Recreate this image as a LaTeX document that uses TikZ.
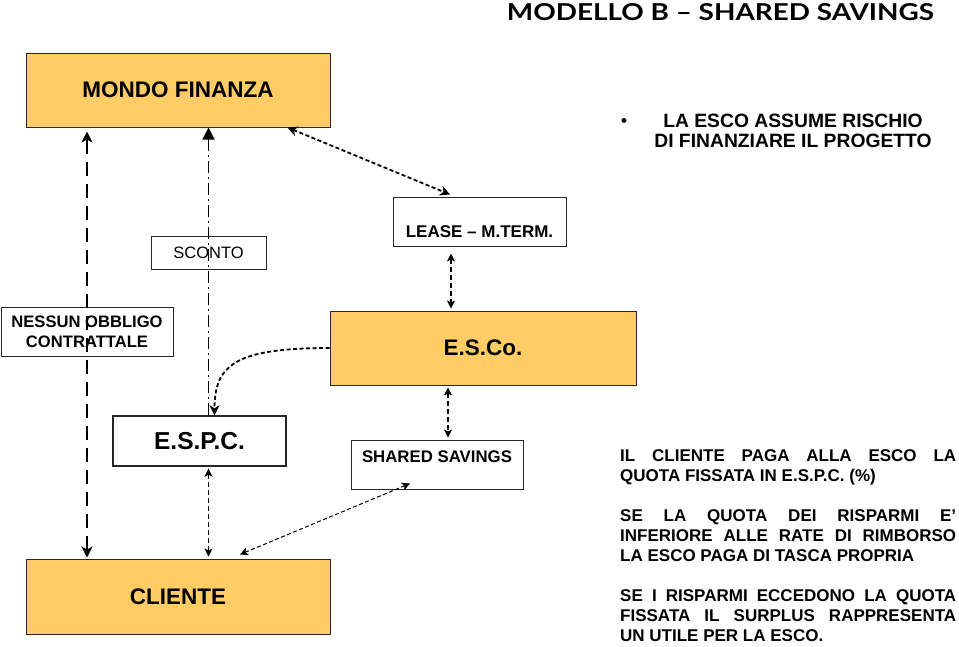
\documentclass[tikz,border=0pt]{standalone}
\usepackage{fontspec}
\setmainfont{Liberation Sans}
\newfontfamily\titlefont{Lato}
\usetikzlibrary{arrows.meta,calc}

\definecolor{arancio}{RGB}{255,204,102}

\begin{document}
\begin{tikzpicture}[x=1pt,y=-1pt,
  box/.style={draw=black!85,line width=1pt,fill=white,inner sep=0pt,align=center,font=\bfseries\fontsize{17}{19.5}\selectfont},
  gbox/.style={box,fill=arancio,font=\bfseries\fontsize{22.5}{24}\selectfont},
  freccia/.style={line width=1.3pt,dash pattern=on 5pt off 3pt,{Stealth[length=8pt,width=8pt,inset=2pt]}-{Stealth[length=8pt,width=8pt,inset=2pt]}},
  puntini/.style={line width=1.8pt,dash pattern=on 4pt off 2.5pt},
  testo/.style={inner sep=0pt,font=\bfseries\fontsize{17}{20}\selectfont}]
  \useasboundingbox (0,0) rectangle (959,646);
  % titolo
  \node[inner sep=0pt] (titolo) at (720.5,12) {\resizebox{427pt}{17pt}{\titlefont\bfseries MODELLO B – SHARED SAVINGS}};
  % riquadri
  \node[gbox,minimum width=304pt,minimum height=74pt] (mondo) at (178,90) {MONDO FINANZA};
  \node[box,minimum width=173pt,minimum height=49pt,text height=32pt,text depth=0pt] (lease) at (479.5,221.5) {LEASE – M.TERM.};
  \node[gbox,minimum width=306pt,minimum height=74pt] (esco) at (483,348) {E.S.Co.};
  \node[box,font=\fontsize{16.5}{19}\selectfont,minimum width=115pt,minimum height=33pt] (sconto) at (208.5,252.5) {SCONTO};
  \node[box,font=\bfseries\fontsize{16.6}{20}\selectfont,minimum width=172pt,minimum height=49pt] (nessun) at (87,331.5) {NESSUN OBBLIGO\\CONTRATTALE};
  \node[box,font=\bfseries\fontsize{24.5}{26}\selectfont,line width=1.4pt,minimum width=173pt,minimum height=50pt] (espc) at (199.5,441) {E.S.P.C.};
  \node[box,font=\bfseries\fontsize{16.8}{19}\selectfont,minimum width=172pt,minimum height=49pt,text depth=15pt] (shared) at (437,464.5) {SHARED SAVINGS};
  \node[gbox,minimum width=304pt,minimum height=75pt] (cliente) at (178,596.5) {CLIENTE};
  % testi a destra
  \node[testo] (punto) at (624,122) {\textbullet};
  \node[testo,font=\bfseries\fontsize{19.3}{20}\selectfont,align=center] (rischio) at (793,131) {LA ESCO ASSUME RISCHIO\\DI FINANZIARE IL PROGETTO};
  \node[testo,anchor=north west,text width=336pt,align=justify] (note) at (620,449.5) {\parindent0pt
    IL CLIENTE PAGA ALLA ESCO LA\linebreak QUOTA FISSATA IN E.S.P.C. (\%)\par\vspace{20pt}
    SE LA QUOTA DEI RISPARMI E’\linebreak INFERIORE ALLE RATE DI RIMBORSO\linebreak LA ESCO PAGA DI TASCA PROPRIA\par\vspace{20pt}
    SE I RISPARMI ECCEDONO LA QUOTA\linebreak FISSATA IL SURPLUS RAPPRESENTA\linebreak UN UTILE PER LA ESCO.};
  % collegamenti
  \draw[line width=2.6pt,dash pattern=on 14pt off 8pt,{Stealth[length=11pt,width=11pt,inset=3pt]}-{Stealth[length=11pt,width=11pt,inset=3pt]},shorten >=4pt,shorten <=1pt] (cliente.north -| nessun.center) -- (mondo.south -| nessun.center);
  \draw[line width=1.3pt,dash pattern=on 12pt off 4pt on 2pt off 4pt,-{Triangle[length=12pt,width=12pt]}] (espc.north -| sconto.center) -- (mondo.south -| sconto.center);
  \draw[puntini,-{Stealth[length=10pt,width=10pt,inset=3pt]}] (esco.west) .. controls +(-95,0) and +(0,-50) .. ([xshift=15pt]espc.north);
  \draw[puntini,{Stealth[length=10pt,width=10pt,inset=3pt]}-{Stealth[length=10pt,width=10pt,inset=3pt]}] ([xshift=-43pt]mondo.south east) -- ([xshift=-29.5pt,yshift=2pt]lease.north);
  \draw[freccia,shorten <=7pt,shorten >=2pt] ([xshift=-28.5pt]lease.south) -- ([xshift=-28.5pt]lease.south |- esco.north);
  \draw[freccia,shorten <=2pt,shorten >=2pt] ([xshift=11pt]shared.north |- esco.south) -- ([xshift=11pt]shared.north);
  \draw[freccia,shorten <=2pt,shorten >=2pt] (espc.south -| sconto.center) -- (cliente.north -| sconto.center);
  \draw[freccia,line width=1pt,dash pattern=on 4pt off 2.5pt] ([xshift=-27pt,yshift=6pt]shared.south) -- ([xshift=62pt,yshift=4pt]cliente.north);
\end{tikzpicture}
\end{document}
